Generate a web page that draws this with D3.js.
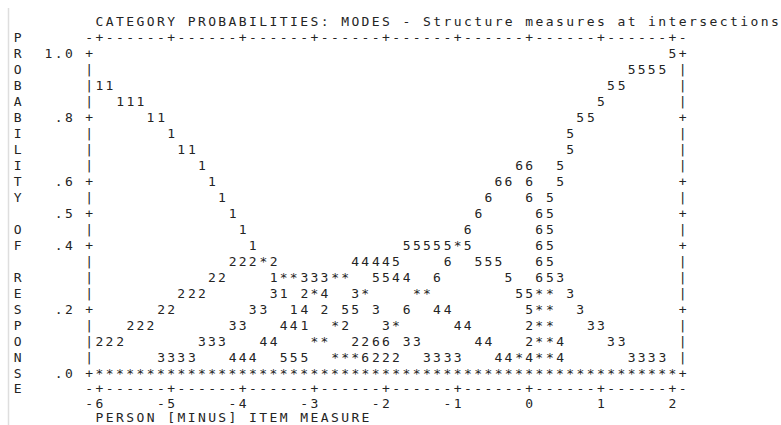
<!DOCTYPE html>
<html>
<head>
<meta charset="utf-8">
<script src="https://cdn.jsdelivr.net/npm/d3@7"></script>
<style>
  body { margin: 0; background: white; }
  svg { display: block; }
</style>
</head>
<body>
<script>
const title = "CATEGORY PROBABILITIES: MODES - Structure measures at intersections";
const yTitle = "PROBABILITY OF RESPONSE";
const xTitle = "PERSON [MINUS] ITEM MEASURE";
const xTicks = [-6, -5, -4, -3, -2, -1, 0, 1, 2];
const yTicks = [1.0, 0.8, 0.6, 0.5, 0.4, 0.2, 0.0];
const categories = ["1", "2", "3", "4", "5", "6"];

// each entry: [probability, [measures where the category number is printed]]
const cat1 = [
  [0.90, [-6.00, -5.86]],
  [0.85, [-5.71, -5.57, -5.43]],
  [0.80, [-5.29, -5.14]],
  [0.75, [-5.00]],
  [0.70, [-4.86, -4.71]],
  [0.65, [-4.57]],
  [0.60, [-4.43]],
  [0.55, [-4.29]],
  [0.50, [-4.14]],
  [0.45, [-4.00]],
  [0.40, [-3.86]],
  [0.30, [-3.57]],
  [0.25, [-3.43]],
  [0.20, [-3.29]],
  [0.15, [-3.14]]
];
const cat2 = [
  [0.35, [-4.14, -4.00, -3.86, -3.57]],
  [0.30, [-4.43, -4.29]],
  [0.25, [-4.86, -4.71, -4.57, -3.14]],
  [0.20, [-5.14, -5.00, -2.86]],
  [0.15, [-5.57, -5.43, -5.29, -2.57, 0.00]],
  [0.10, [-6.00, -5.86, -5.71, -2.43, -2.29, 0.00]],
  [0.05, [-2.14, -2.00, -1.86]]
];
const cat3 = [
  [0.30, [-3.14, -3.00, -2.86, 0.43]],
  [0.25, [-3.57, -2.43, 0.57]],
  [0.20, [-3.86, -3.71, -2.14, 0.71]],
  [0.15, [-4.14, -4.00, -2.00, 0.86, 1.00]],
  [0.10, [-4.57, -4.43, -4.29, -1.71, -1.57, 1.14, 1.29]],
  [0.05, [-5.14, -5.00, -4.86, -4.71, -1.43, -1.29, -1.14, -1.00, 1.43, 1.57, 1.71, 1.86]]
];
const cat4 = [
  [0.35, [-2.43, -2.29, -2.14, -2.00]],
  [0.30, [-1.86, -1.71]],
  [0.25, [-2.86]],
  [0.20, [-3.14, -1.29, -1.14]],
  [0.15, [-3.43, -3.29, -1.00, -0.86]],
  [0.10, [-3.71, -3.57, -0.71, -0.57, 0.43]],
  [0.05, [-4.14, -4.00, -3.86, -0.43, -0.29, 0.00, 0.43]]
];
const cat5 = [
  [1.00, [2.00]],
  [0.95, [1.43, 1.57, 1.71, 1.86]],
  [0.90, [1.14, 1.29]],
  [0.85, [1.00]],
  [0.80, [0.71, 0.86]],
  [0.75, [0.57]],
  [0.70, [0.57]],
  [0.65, [0.43]],
  [0.60, [0.43]],
  [0.55, [0.29]],
  [0.50, [0.29]],
  [0.45, [0.29]],
  [0.40, [-1.71, -1.57, -1.43, -1.29, -1.14, -0.86, 0.29]],
  [0.35, [-1.86, -0.71, -0.57, -0.43, 0.29]],
  [0.30, [-2.14, -2.00, -0.29, 0.29]],
  [0.25, [-0.14, 0.00]],
  [0.20, [-2.57, -2.43, 0.00]],
  [0.05, [-3.43, -3.29, -3.14]]
];
const cat6 = [
  [0.65, [-0.14, 0.00]],
  [0.60, [-0.43, -0.29, 0.00]],
  [0.55, [-0.57, 0.00]],
  [0.50, [-0.71, 0.14]],
  [0.45, [-0.86, 0.14]],
  [0.40, [0.14]],
  [0.35, [-1.14, 0.14]],
  [0.30, [-1.29, 0.14]],
  [0.20, [-1.71]],
  [0.10, [-2.14, -2.00]],
  [0.05, [-2.29]]
];
// cells where two or more categories print on the same spot
const overlaps = [
  [0.40, [-1.00]],
  [0.35, [-3.71]],
  [0.30, [-3.43, -3.29, -2.71, -2.57]],
  [0.25, [-3.00, -2.29, -1.57, -1.43, 0.14, 0.29]],
  [0.20, [0.14, 0.29]],
  [0.15, [-2.71, -1.86, 0.14, 0.29]],
  [0.10, [-3.00, -2.86, 0.14, 0.29]],
  [0.05, [-2.71, -2.57, -2.43, -0.14, 0.14, 0.29]]
];
const series = [cat1, cat2, cat3, cat4, cat5, cat6];

const width = 781;
const height = 425;
const step = 1 / 7;   // one character column, in logits
const rowP = 0.05;    // one text row, in probability

const x = d3.scaleLinear().domain([-6, 2]).range([99.5, 672.5]);
const y = d3.scaleLinear().domain([0, 1]).range([373, 53]);
const rowH = y(0) - y(rowP);
const [xMin, xMax] = x.domain();
const nCols = Math.round((xMax - xMin) / step);

// rows under the plot are a little tighter in the reference
const yBorderBottom = y(0) + 15;
const yTickLabels = y(0) + 30;
const yXTitle = y(0) + 44;

const svg = d3.create("svg")
  .attr("width", width)
  .attr("height", height)
  .attr("viewBox", `0 0 ${width} ${height}`)
  .style("background", "white")
  .style("font", "13px 'DejaVu Sans Mono', monospace");

// faint window edge on the left
svg.append("line")
  .attr("x1", 8.5).attr("x2", 8.5)
  .attr("y1", 8).attr("y2", height)
  .attr("stroke", "#dedede")
  .attr("stroke-width", 1.5);

const g = svg.append("g")
  .attr("fill", "#242424")
  .attr("text-anchor", "middle");

// write a string one character per column, first character at measure m0
function put(str, m0, yy) {
  const chars = Array.from(str).map((c, i) => ({c, i})).filter(d => d.c !== " ");
  g.append("g")
    .selectAll("text")
    .data(chars)
    .join("text")
      .attr("x", d => x(m0 + d.i * step))
      .attr("y", yy)
      .attr("dy", "0.35em")
      .text(d => d.c);
}

// title
put(title, xMin, y(1) - 2 * rowH);

// top and bottom borders
const border = d3.range(-1, nCols + 2)
  .map(c => (c >= 0 && c <= nCols && xTicks.some(t => Math.round((t - xMin) / step) === c)) ? "+" : "-")
  .join("");
put(border, xMin - step, y(1) - rowH);
put(border, xMin - step, yBorderBottom);

// left and right frames
const rows = d3.range(0, 1 + rowP / 2, rowP).map(p => +p.toFixed(2));
const isTick = p => yTicks.some(t => Math.abs(t - p) < 1e-6);
g.append("g").selectAll("text")
  .data(rows)
  .join("text")
    .attr("x", x(xMin - step))
    .attr("y", d => y(d))
    .attr("dy", "0.35em")
    .text(d => isTick(d) ? "+" : "|");
g.append("g").selectAll("text")
  .data(rows)
  .join("text")
    .attr("x", x(xMax + step))
    .attr("y", d => y(d))
    .attr("dy", "0.35em")
    .text(d => isTick(d) ? "+" : "|");

// y tick labels, ending two columns left of the frame
const fmtP = p => p === 1 ? "1.0" : d3.format(".1f")(p).replace(/^0/, "");
yTicks.forEach(p => {
  const s = fmtP(p);
  put(s, xMin - (s.length + 2) * step, y(p));
});

// x tick labels, last digit under the tick
xTicks.forEach(t => {
  const s = String(t);
  put(s, t - (s.length - 1) * step, yTickLabels);
});

// axis titles
put(xTitle, xMin, yXTitle);
g.append("g").selectAll("text")
  .data(Array.from(yTitle).map((c, i) => ({c, i})).filter(d => d.c !== " "))
  .join("text")
    .attr("x", x(xMin - 8 * step))
    .attr("y", d => d.i - 1 <= 20 ? y(1) + (d.i - 1) * rowH : yBorderBottom)
    .attr("dy", "0.35em")
    .text(d => d.c);

// the zero row, where every curve overlaps
g.append("g").selectAll("text")
  .data(d3.range(0, nCols + 1))
  .join("text")
    .attr("x", c => x(xMin + c * step))
    .attr("y", y(0))
    .attr("dy", "0.35em")
    .text("*");

// category curves
const flat = (rowsData, label) => rowsData.flatMap(([p, ms]) => ms.map(m => ({m, p, label})));
const points = series.flatMap((s, i) => flat(s, categories[i])).concat(flat(overlaps, "*"));

g.append("g").selectAll("text")
  .data(points)
  .join("text")
    .attr("x", d => x(d.m))
    .attr("y", d => y(d.p))
    .attr("dy", "0.35em")
    .text(d => d.label);

document.body.appendChild(svg.node());
</script>
</body>
</html>
